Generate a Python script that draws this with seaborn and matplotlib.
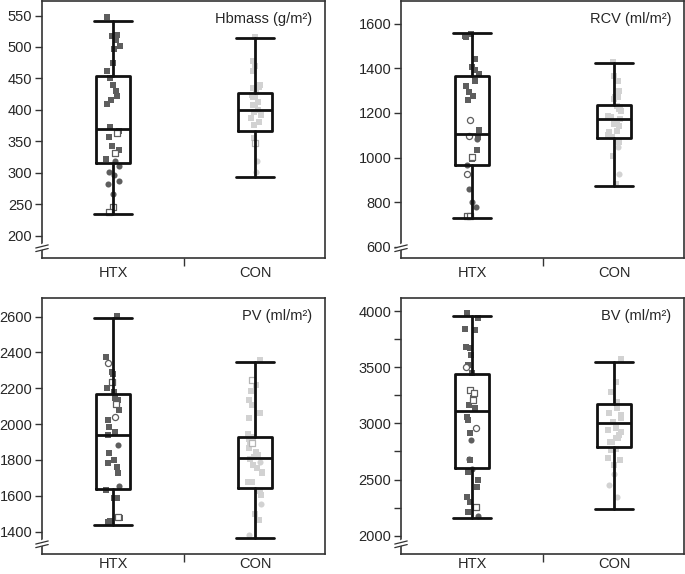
import numpy as np
import pandas as pd
import seaborn as sns
import matplotlib.pyplot as plt

np.random.seed(7)

groups = ['HTX', 'CON']

# kinds: s = filled square, o = filled circle, S = open square, O = open circle
# Hbmass (g/m2)
hb_htx = [548, 519, 517, 511, 501, 496, 474, 461, 451, 440, 430, 422, 416, 409, 373, 367,
          364, 357, 342, 336, 331, 322, 318, 310, 302, 297, 287, 282, 267, 245, 238]
hb_htx_kind = "ssssssssssssssssSsssSsoooooooSS"
hb_con = [516, 477, 469, 461, 440, 437, 434, 429, 424, 421, 420, 413, 408, 408, 400, 396,
          392, 387, 381, 376, 355, 347, 318, 302]
hb_con_kind = "sssssssssssssssssssssSoo"
hb_box_htx = [234, 315, 370, 454, 542]
hb_box_con = [294, 367, 399, 427, 515]

# RCV (ml/m2)
rcv_htx = [1553, 1545, 1538, 1441, 1404, 1392, 1374, 1344, 1322, 1292, 1277, 1258, 1169,
           1124, 1097, 1091, 1084, 1032, 1002, 995, 965, 928, 861, 801, 779, 737, 737]
rcv_htx_kind = "ssssssssssssOsOsosSsoOoooSS"
rcv_con = [1429, 1367, 1344, 1299, 1270, 1263, 1270, 1225, 1232, 1218, 1210, 1188, 1173,
           1180, 1151, 1143, 1158, 1113, 1121, 1099, 1091, 1046, 1069, 1009, 928, 883]
rcv_con_kind = "sssssssssssssssssssssossos"
rcv_box_htx = [727, 966, 1106, 1363, 1557]
rcv_box_con = [874, 1088, 1173, 1236, 1423]

# PV (ml/m2)
pv_htx = [2604, 2377, 2340, 2293, 2280, 2237, 2200, 2181, 2144, 2135, 2111, 2079, 2038,
          2023, 1986, 1958, 1939, 1883, 1837, 1799, 1781, 1762, 1729, 1654, 1632, 1585,
          1585, 1483, 1474, 1460, 1455, 1451]
pv_htx_kind = "ssOssSssssSsOssssosssssosssSssosS"[:32]
pv_con = [2358, 2246, 2219, 2185, 2135, 2107, 2060, 2032, 1943, 1930, 1917, 1893, 1887,
          1865, 1846, 1827, 1818, 1805, 1790, 1771, 1753, 1734, 1725, 1678, 1678, 1632,
          1626, 1604, 1554, 1496, 1464, 1380]
pv_con_kind = "sSsssssssssSssssssossssssossosso"
pv_box_htx = [1436, 1636, 1939, 2168, 2591]
pv_box_con = [1362, 1641, 1809, 1926, 2349]

# BV (ml/m2)
bv_htx = [3979, 3935, 3840, 3831, 3682, 3668, 3608, 3504, 3519, 3445, 3297, 3267, 3223,
          3207, 3163, 3134, 3059, 3029, 2955, 2911, 2851, 2682, 2673, 2593, 2569, 2495,
          2436, 2346, 2302, 2257, 2213, 2174]
bv_htx_kind = "sssssssOssSSsSssssOsoososssssSso"
bv_con = [3570, 3370, 3281, 3192, 3134, 3134, 3089, 3074, 3044, 3015, 2955, 2940, 2925,
          2896, 2866, 2866, 2836, 2836, 2762, 2768, 2688, 2673, 2629, 2549, 2451, 2346]
bv_con_kind = "sssssssssssssssssssssssooo"
bv_box_htx = [2154, 2605, 3110, 3436, 3958]
bv_box_con = [2237, 2792, 3005, 3172, 3549]

sns.set_style("ticks")
plt.rcParams['font.family'] = ['Liberation Sans', 'DejaVu Sans']

dark = '#5e5e5e'
light = '#d2d2d2'
styles = {
    'HTX': {'s': ('s', dark, dark, 0), 'o': ('o', dark, dark, 0),
            'S': ('s', 'white', dark, 0.9), 'O': ('o', 'white', dark, 0.9)},
    'CON': {'s': ('s', light, light, 0), 'o': ('o', light, light, 0),
            'S': ('s', 'white', '#b5b5b5', 0.9), 'O': ('o', 'white', '#b5b5b5', 0.9)},
}


def draw_panel(ax, htx, htx_kind, con, con_kind, box_htx, box_con, ylim, yticks, title,
               minor=None, xpad=6):
    df = pd.DataFrame({
        'group': ['HTX'] * len(htx) + ['CON'] * len(con),
        'value': htx + con,
        'kind': list(htx_kind) + list(con_kind),
    })
    for g in groups:
        for k, (m, fc, ec, lw) in styles[g].items():
            sub = df[(df.group == g) & (df.kind == k)]
            if sub.empty:
                continue
            sns.stripplot(data=sub, x='group', y='value', order=groups, jitter=0.05,
                          marker=m, size=4.4, color=fc, edgecolor=ec, linewidth=lw,
                          ax=ax, zorder=1)
    stats = [dict(whislo=b[0], q1=b[1], med=b[2], q3=b[3], whishi=b[4])
             for b in (box_htx, box_con)]
    lp = dict(color='#111111', linewidth=2.0)
    ax.bxp(stats, positions=[0, 1], widths=0.24, capwidths=0.27, showfliers=False,
           manage_ticks=False, boxprops=lp, whiskerprops=lp, capprops=lp, medianprops=lp,
           zorder=3)
    ax.set_xlim(-0.5, 1.49)
    ax.set_ylim(*ylim)
    ax.set_yticks(yticks)
    if minor is not None:
        ax.set_yticks(minor, minor=True)
        ax.tick_params(axis='y', which='minor', length=5, width=1, color='#333333')
    ax.set_xticks([0, 1])
    ax.set_xticklabels(groups)
    ax.set_xticks([0.5], minor=True)
    ax.tick_params(axis='x', which='major', length=0, pad=xpad, labelsize=10.5)
    ax.tick_params(axis='x', which='minor', length=6, width=1, color='#333333')
    ax.tick_params(axis='y', which='major', length=5, width=1, color='#333333',
                   labelsize=10.5, pad=2)
    ax.set_xlabel('')
    ax.set_ylabel('')
    for sp in ax.spines.values():
        sp.set_visible(True)
        sp.set_linewidth(1.2)
        sp.set_color('#333333')
    ax.text(0.955, 0.93, title, transform=ax.transAxes, ha='right', va='center',
            fontsize=10.5)
    # axis break mark
    tr = ax.transAxes
    ax.plot([-0.012, 0.012], [0.036, 0.05], color='white', lw=4, transform=tr,
            clip_on=False, zorder=5, solid_capstyle='butt')
    for dy in (0.033, 0.047):
        ax.plot([-0.022, 0.022], [dy - 0.008, dy + 0.004], color='#333333', lw=0.9,
                transform=tr, clip_on=False, zorder=6)


fig = plt.figure(figsize=(6.85, 5.74), dpi=100)
ax1 = fig.add_axes([0.0613, 0.5505, 0.4131, 0.4477])
ax2 = fig.add_axes([0.5854, 0.5505, 0.4131, 0.4477])
ax3 = fig.add_axes([0.0613, 0.0348, 0.4131, 0.4460])
ax4 = fig.add_axes([0.5854, 0.0348, 0.4131, 0.4460])

draw_panel(ax1, hb_htx, hb_htx_kind, hb_con, hb_con_kind, hb_box_htx, hb_box_con,
           (164.5, 573), range(200, 551, 50), 'Hbmass (g/m\u00b2)')
draw_panel(ax2, rcv_htx, rcv_htx_kind, rcv_con, rcv_con_kind, rcv_box_htx, rcv_box_con,
           (550, 1701), range(600, 1601, 200), 'RCV (ml/m\u00b2)')
draw_panel(ax3, pv_htx, pv_htx_kind, pv_con, pv_con_kind, pv_box_htx, pv_box_con,
           (1275, 2704), range(1400, 2601, 200), 'PV (ml/m\u00b2)', xpad=2)
draw_panel(ax4, bv_htx, bv_htx_kind, bv_con, bv_con_kind, bv_box_htx, bv_box_con,
           (1837, 4116), range(2000, 4001, 500), 'BV (ml/m\u00b2)',
           minor=range(2250, 4000, 500), xpad=2)

fig.savefig('out.png', dpi=100)
